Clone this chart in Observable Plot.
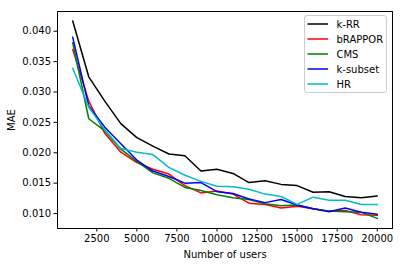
<!DOCTYPE html>
<html>
<head>
<meta charset="utf-8">
<script src="https://cdn.jsdelivr.net/npm/d3@7"></script>
<script src="https://cdn.jsdelivr.net/npm/@observablehq/plot@0.6"></script>
<style>
  html, body { margin: 0; padding: 0; background: #fff; }
</style>
</head>
<body>
<div id="wrap"></div>
<script>
const users = [1000,2000,3000,4000,5000,6000,7000,8000,9000,10000,11000,12000,13000,14000,15000,16000,17000,18000,19000,20000];
const kRR      = [0.0417,0.0325,0.0285,0.0248,0.0225,0.0211,0.0198,0.0195,0.0170,0.0173,0.0166,0.0151,0.0154,0.0148,0.0146,0.0135,0.0136,0.0128,0.0126,0.0129];
const bRAPPOR  = [0.0370,0.0285,0.0232,0.0201,0.0184,0.0173,0.0165,0.0146,0.0134,0.0137,0.0132,0.0117,0.0115,0.0109,0.0112,0.0108,0.0104,0.0105,0.0098,0.0097];
const CMS      = [0.0381,0.0256,0.0236,0.0206,0.0186,0.0167,0.0158,0.0143,0.0138,0.0131,0.0126,0.0123,0.0116,0.0113,0.0114,0.0108,0.0104,0.0103,0.0102,0.0092];
const kSubset  = [0.0390,0.0277,0.0242,0.0215,0.0188,0.0170,0.0161,0.0150,0.0151,0.0136,0.0133,0.0124,0.0118,0.0123,0.0114,0.0108,0.0103,0.0109,0.0102,0.0099];
const HR       = [0.0339,0.0275,0.0238,0.0207,0.0201,0.0197,0.0176,0.0163,0.0153,0.0145,0.0144,0.0140,0.0132,0.0128,0.0115,0.0127,0.0122,0.0122,0.0115,0.0115];
const seriesNames = ["k-RR","bRAPPOR","CMS","k-subset","HR"];
const seriesColors = ["#000000","#ff0000","#008000","#0000ff","#00bfbf"];
const xTicks = [2500,5000,7500,10000,12500,15000,17500,20000];
const yTicks = [0.010,0.015,0.020,0.025,0.030,0.035,0.040];

const allSeries = [kRR, bRAPPOR, CMS, kSubset, HR];
const data = [];
allSeries.forEach((vals, i) => vals.forEach((v, j) => data.push({users: users[j], mae: v, series: seriesNames[i]})));

const chart = Plot.plot({
  width: 402, height: 266,
  marginLeft: 57, marginRight: 10, marginTop: 11, marginBottom: 38,
  style: {fontFamily: "DejaVu Sans, sans-serif", fontSize: "10px", color: "#000", background: "#fff"},
  x: {domain: [50, 20950]},
  y: {domain: [0.00754, 0.04325]},
  color: {domain: seriesNames, range: seriesColors},
  marks: [
    Plot.axisX({ticks: xTicks, tickFormat: d => String(d), tickSize: 3.5, tickPadding: 3, fontSize: 10,
      label: "Number of users", labelAnchor: "center", labelOffset: 29, labelArrow: "none"}),
    Plot.axisY({ticks: yTicks, tickFormat: d3.format(".3f"), tickSize: 3.5, tickPadding: 3, fontSize: 10,
      label: "MAE", labelAnchor: "center", labelOffset: 50, labelArrow: "none"}),
    Plot.line(data, {x: "users", y: "mae", z: "series", stroke: "series", strokeWidth: 1.5}),
    Plot.frame({stroke: "#000", strokeWidth: 1})
  ]
});
document.getElementById("wrap").appendChild(chart);

// Legend drawn inside the chart SVG
const svg = d3.select(chart.tagName.toLowerCase() === "svg" ? chart : chart.querySelector("svg"));
const lg = svg.append("g").attr("font-family", "DejaVu Sans, sans-serif").attr("font-size", 10).attr("text-anchor", "start");
lg.append("rect").attr("x", 304.5).attr("y", 15.5).attr("width", 82).attr("height", 77)
  .attr("rx", 2.5).attr("fill", "#fff").attr("fill-opacity", 0.8).attr("stroke", "#cccccc").attr("stroke-width", 1);
seriesNames.forEach((name, i) => {
  const cy = 24 + i * 15;
  lg.append("line").attr("x1", 307.5).attr("x2", 328).attr("y1", cy).attr("y2", cy)
    .attr("stroke", seriesColors[i]).attr("stroke-width", 1.5);
  lg.append("text").attr("x", 336.5).attr("y", cy).attr("dy", "0.35em").attr("text-anchor", "start")
    .attr("fill", "#000").text(name);
});
</script>
</body>
</html>
